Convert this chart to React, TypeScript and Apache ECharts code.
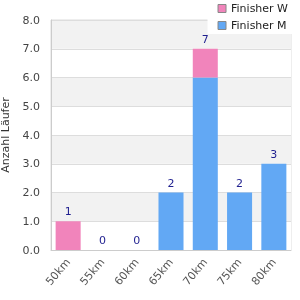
import React, { useEffect, useRef } from "react";
import * as echarts from "echarts";

const categories = ["50km", "55km", "60km", "65km", "70km", "75km", "80km"];
const finisherW = [1, 0, 0, 0, 1, 0, 0];
const finisherM = [0, 0, 0, 2, 6, 2, 3];
const totals = categories.map((_, i) => finisherW[i] + finisherM[i]);

export default function App() {
  const ref = useRef<HTMLDivElement>(null);
  useEffect(() => {
    const chart = echarts.init(ref.current!, null, { renderer: "svg" });
    chart.setOption({
      animation: false,
      textStyle: { fontFamily: "DejaVu Sans" },
      grid: {
        left: 51, right: 9, top: 20, bottom: 50,
        containLabel: false,
        outerBoundsMode: "none",
        show: true, borderColor: "#dddddd", borderWidth: 1, backgroundColor: "transparent",
      },
      legend: {
        orient: "vertical",
        right: 0,
        top: 0,
        padding: [3, 12, 3, 10],
        itemGap: 6,
        itemWidth: 8,
        itemHeight: 8,
        icon: "rect",
        backgroundColor: "#ffffff",
        data: ["Finisher W", "Finisher M"],
        itemStyle: { borderColor: "#888888", borderWidth: 1 },
        textStyle: { fontSize: 11, color: "#222222", fontFamily: "DejaVu Sans" },
      },
      xAxis: {
        type: "category",
        data: categories,
        axisLine: { lineStyle: { color: "#cccccc" } },
        axisTick: { show: false },
        axisLabel: { rotate: 50, interval: 0, fontSize: 11, color: "#555555", margin: 10 },
      },
      yAxis: {
        type: "value",
        min: 0,
        max: 8,
        interval: 1,
        name: "Anzahl Läufer",
        nameLocation: "middle",
        nameGap: 40,
        nameTextStyle: { fontSize: 11, color: "#333333" },
        axisLine: { show: true, lineStyle: { color: "#cccccc" } },
        axisLabel: { formatter: (v: number) => v.toFixed(1), fontSize: 11, color: "#444444", margin: 11 },
        splitLine: { lineStyle: { color: "#dddddd" } },
        splitArea: { show: true, areaStyle: { color: ["#ffffff", "#f2f2f2"] } },
      },
      series: [
        {
          name: "Finisher M",
          type: "bar",
          stack: "total",
          data: finisherM,
          barWidth: "73%",
          itemStyle: { color: "#62a8f4", borderWidth: 0 },
        },
        {
          name: "Finisher W",
          type: "bar",
          stack: "total",
          data: finisherW,
          barWidth: "73%",
          itemStyle: { color: "#f184bb", borderWidth: 0 },
          label: {
            show: true,
            position: "top",
            distance: 4,
            fontSize: 11,
            color: "#1f1f8f",
            formatter: (p: any) => String(totals[p.dataIndex]),
          },
        },
      ],
    });
    return () => chart.dispose();
  }, []);
  return <div ref={ref} style={{ position: "fixed", left: 0, top: 0, width: 300, height: 300 }} />;
}
